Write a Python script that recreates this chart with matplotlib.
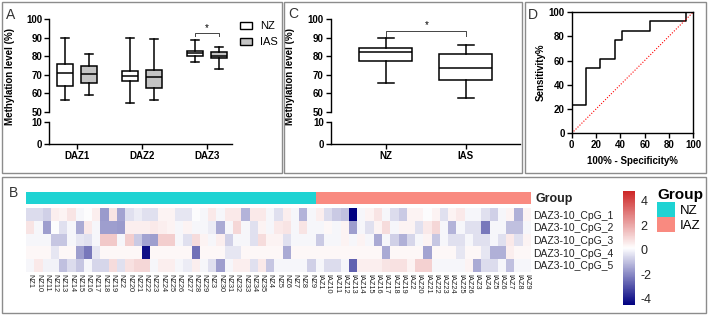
import numpy as np
import matplotlib
matplotlib.use("Agg")
import matplotlib.pyplot as plt
from matplotlib.patches import Rectangle, Patch
from matplotlib.colors import LinearSegmentedColormap, ListedColormap, Normalize

plt.rcParams['font.family'] = ['Liberation Sans', 'DejaVu Sans']
plt.rcParams['axes.unicode_minus'] = False

# ---- data ----
regions = ['DAZ1', 'DAZ2', 'DAZ3']
nz_whislo = [56.3, 54.7, 76.7]
nz_q1 = [64.1, 66.4, 80.1]
nz_med = [71.1, 69.3, 81.6]
nz_q3 = [75.8, 72.0, 83.0]
nz_whishi = [90.1, 90.0, 89.0]
ias_whislo = [59.2, 56.1, 73.1]
ias_q1 = [65.7, 63.0, 79.0]
ias_med = [70.6, 68.6, 80.1]
ias_q3 = [74.5, 72.4, 82.1]
ias_whishi = [81.4, 89.5, 85.0]

groups_c = ['NZ', 'IAS']
c_whislo = [65.5, 57.5]
c_q1 = [77.5, 67.1]
c_med = [82.2, 73.9]
c_q3 = [84.2, 81.1]
c_whishi = [90.1, 86.3]

roc_fpr = [0, 0, 11.8, 11.8, 23.5, 23.5, 35.3, 35.3, 41.2, 41.2, 64.7, 64.7, 94.1, 94.1, 100]
roc_tpr = [0, 23.1, 23.1, 53.8, 53.8, 61.5, 61.5, 76.9, 76.9, 84.6, 84.6, 92.3, 92.3, 100, 100]

samples_nz = ['NZ1'] + ['NZ1%d' % i for i in range(10)] + ['NZ2'] + ['NZ2%d' % i for i in range(10)] \
    + ['NZ3'] + ['NZ3%d' % i for i in range(6)] + ['NZ%d' % i for i in range(4, 10)]
samples_iaz = ['IAZ1'] + ['IAZ1%d' % i for i in range(10)] + ['IAZ2'] + ['IAZ2%d' % i for i in range(7)] \
    + ['IAZ%d' % i for i in range(3, 10)]
samples = samples_nz + samples_iaz
cpg_sites = ['DAZ3-10_CpG_%d' % i for i in range(1, 6)]

cpg1 = [-0.5, -0.5, -0.7, 0.5, 0.4, 0.7, 0.0, 0.1, 0.5, -1.7, 0.7, -1.5, -0.4, -0.2, -0.4, -0.4,
        0.4, 0.4, -0.3, -0.3, 0.1, 0.0, 0.6, 0.0, 0.6, 0.6, -1.2, 0.6, 0.6, 0.0, -0.4, 0.5, 0.0,
        -1.2, 0.0, 0.5, -0.5, -0.8, -1.0, -4.5, 0.0, 0.4, 0.7, 0.0, -0.5, -0.8, 0.4, 0.4, 0.1,
        0.4, -0.4, 0.4, 0.6, 0.0, 0.0, -0.4, -0.7, 0.0, 0.4, -1.3, 0.4]
cpg2 = [0.7, 0.0, -1.6, 0.1, -0.4, 0.0, -1.4, 0.6, 0.0, -1.6, -1.6, -1.7, 0.5, 0.5, 0.5, 0.6,
        0.5, 0.4, 0.0, 0.4, 0.0, 0.0, -0.2, -1.4, 0.0, 1.0, 0.0, -0.4, 0.4, 0.0, 0.6, 0.7, 0.0,
        0.7, 0.0, 0.0, 0.3, 0.0, 0.4, -1.6, 0.0, -0.4, 0.4, 0.9, 0.0, 0.4, 0.4, -0.4, 0.6,
        1.0, 0.0, -1.2, 0.0, -0.4, -0.4, -2.3, 0.0, 0.0, -1.0, -1.0, 0.0]
cpg3 = [0.0, 0.0, 0.0, -0.9, -0.9, 0.0, -0.3, -0.4, 0.0, 1.3, 1.3, 0.0, 1.2, -0.8, -1.5, -1.6,
        1.2, 1.2, 0.0, -0.4, 0.9, 0.4, 0.0, 0.5, -0.7, 0.0, 0.0, -0.4, 0.9, 0.4, 0.4, -0.4, 0.0,
        0.0, 0.0, -0.8, 0.0, 0.0, 0.4, 0.0, 0.4, 0.0, -1.4, 0.0, -0.7, -1.3, -0.6, 0.0, 0.4,
        -0.9, 0.0, -0.4, -0.4, 0.0, -0.4, -0.4, 0.0, -0.4, 0.6, -0.4, 0.4]
cpg4 = [0.3, 0.3, 0.3, -0.3, 0.3, 0.3, -1.6, -2.3, -0.3, 0.3, 0.3, 0.3, 0.3, 0.3, -4.2, 0.3,
        0.3, 0.3, 0.3, 0.3, -2.4, 0.3, 0.3, 0.3, -0.3, -0.3, 0.3, 0.3, 0.3, 0.3, 0.3, -1.4, 0.3,
        0.3, 0.3, 0.3, 0.3, 0.3, 0.3, 0.3, 0.3, 0.3, 0.3, -1.4, 0.3, 0.3, 0.3, 0.3, -1.5,
        0.3, 0.3, 0.3, -0.3, 0.3, 0.3, -0.3, -1.3, -1.3, 0.5, 0.3, 0.3]
cpg5 = [0.0, 0.6, -0.1, -0.1, -1.0, -0.5, -0.9, 0.0, -0.6, -0.6, 0.9, -0.4, 0.8, 1.0, 1.0, 0.0,
        0.5, 0.5, 0.0, -0.2, 0.5, 0.0, -0.4, -1.6, 0.0, 0.5, 0.5, -0.4, 0.6, -0.9, 0.0, 0.0, 0.0,
        0.0, -0.7, 0.0, -0.5, -0.5, 0.0, -2.7, 0.5, 0.5, 0.5, 0.7, 0.8, 0.8, 0.4, 1.1, 1.1,
        0.0, 0.0, 0.0, 0.0, 0.4, -1.4, -0.5, -0.5, 0.0, -1.0, 0.0, 0.0]

W, H = 708, 315
fig = plt.figure(figsize=(W / 100, H / 100), dpi=100)


def px_axes(x0, y0, x1, y1):
    return fig.add_axes([x0 / W, 1 - y1 / H, (x1 - x0) / W, (y1 - y0) / H])


def stats(lo, q1, med, q3, hi):
    return [dict(whislo=a, q1=b, med=c, q3=d, whishi=e, fliers=[])
            for a, b, c, d, e in zip(lo, q1, med, q3, hi)]


def broken_axes(x0, x1, xlim):
    top = px_axes(x0, 19.3, x1, 111.7)
    bot = px_axes(x0, 121.7, x1, 144.3)
    top.set_ylim(50, 100)
    top.set_yticks(range(50, 101, 10))
    bot.set_ylim(0, 10)
    bot.set_yticks([0, 10])
    for s in ['top', 'right', 'bottom']:
        top.spines[s].set_visible(False)
    for s in ['top', 'right']:
        bot.spines[s].set_visible(False)
    top.tick_params(axis='x', bottom=False, labelbottom=False)
    for a in (top, bot):
        a.set_xlim(*xlim)
        a.patch.set_alpha(0)
        a.tick_params(length=3.5, width=1, labelsize=7, pad=1.5)
        for lab in a.get_yticklabels():
            lab.set_fontweight('bold')
        for sp in a.spines.values():
            sp.set_linewidth(1)
    return top, bot


line_kw = dict(color='black', linewidth=1.1)
box_kw = dict(showfliers=False, patch_artist=True, manage_ticks=False,
              whiskerprops=line_kw, capprops=line_kw, medianprops=line_kw)

# ---- panel A ----
topA, botA = broken_axes(49.3, 232, (-0.43, 2.385))
pos = np.arange(len(regions))
off, bw = 0.185, 0.24
topA.bxp(stats(nz_whislo, nz_q1, nz_med, nz_q3, nz_whishi), positions=pos - off, widths=bw,
         capwidths=bw * 0.55, boxprops=dict(facecolor='white', edgecolor='black', linewidth=1.1), **box_kw)
topA.bxp(stats(ias_whislo, ias_q1, ias_med, ias_q3, ias_whishi), positions=pos + off, widths=bw,
         capwidths=bw * 0.55, boxprops=dict(facecolor='#c4c4c4', edgecolor='black', linewidth=1.1), **box_kw)
botA.set_xticks(pos)
botA.set_xticklabels(regions, fontweight='bold')
topA.set_ylabel('Methylation level (%)', fontsize=7, fontweight='bold')
topA.yaxis.set_label_coords(-0.19, 0.38)
topA.plot([2 - off, 2 - off, 2 + off, 2 + off], [90.8, 92.4, 92.4, 90.8], color='#444444', lw=0.7, clip_on=False)
topA.text(2, 92.6, '*', ha='center', va='bottom', fontsize=7)
fig.legend(handles=[Patch(facecolor='white', edgecolor='black', lw=1),
                    Patch(facecolor='#c4c4c4', edgecolor='black', lw=1)],
           labels=['NZ', 'IAS'], loc='upper left', bbox_to_anchor=(239.5 / W, 1 - 21 / H),
           frameon=False, fontsize=8, handlelength=1.13, handleheight=0.6, labelspacing=0.55,
           handletextpad=0.7, borderpad=0, borderaxespad=0)

# ---- panel C ----
topC, botC = broken_axes(330.7, 520, (-0.685, 1.68))
posc = np.arange(len(groups_c))
topC.bxp(stats(c_whislo, c_q1, c_med, c_q3, c_whishi), positions=posc, widths=0.66,
         capwidths=0.2, boxprops=dict(facecolor='white', edgecolor='black', linewidth=1.1), **box_kw)
botC.set_xticks(posc)
botC.set_xticklabels(groups_c, fontweight='bold')
topC.set_ylabel('Methylation level (%)', fontsize=7, fontweight='bold')
topC.yaxis.set_label_coords(-0.19, 0.38)
topC.plot([0, 0, 1, 1], [91.0, 93.8, 93.8, 91.2], color='#444444', lw=0.7, clip_on=False)
topC.text(0.515, 94.2, '*', ha='center', va='bottom', fontsize=7)

# ---- panel D ----
axD = px_axes(571.7, 12, 693.3, 133.3)
axD.plot(roc_fpr, roc_tpr, color='black', lw=1.1)
axD.plot([0, 100], [0, 100], color='red', ls=(0, (1, 1.5)), lw=0.8)
axD.set_xlim(0, 100)
axD.set_ylim(0, 100)
axD.set_xticks(range(0, 101, 20))
axD.set_yticks(range(0, 101, 20))
axD.tick_params(length=3.5, width=1, labelsize=7, pad=1.5)
for lab in axD.get_xticklabels() + axD.get_yticklabels():
    lab.set_fontweight('bold')
for sp in axD.spines.values():
    sp.set_linewidth(1)
axD.set_xlabel('100% - Specificity%', fontsize=7, fontweight='bold', labelpad=4)
axD.set_ylabel('Sensitivity%', fontsize=7, fontweight='bold', labelpad=2)

# ---- panel B heatmap ----
mat = np.array([cpg1, cpg2, cpg3, cpg4, cpg5])
cmap = LinearSegmentedColormap.from_list('nwf', ['#000080', 'white', '#CD2626'])
norm = Normalize(vmin=-4.5, vmax=4.8)
axB = px_axes(26, 208.3, 531, 271.7)
im = axB.imshow(mat, cmap=cmap, norm=norm, aspect='auto', interpolation='nearest')
axB.set_xticks(np.arange(len(samples)))
axB.set_xticklabels(samples, rotation=-90, fontsize=5.3, color='#222222')
axB.set_yticks(np.arange(len(cpg_sites)))
axB.set_yticklabels(cpg_sites, fontsize=7.5, color='#222222')
axB.yaxis.tick_right()
axB.tick_params(length=0, pad=1.5)
for sp in axB.spines.values():
    sp.set_visible(False)

group_codes = [0] * len(samples_nz) + [1] * len(samples_iaz)
group_cols = ['#1ED3D3', '#F98A80']
axG = px_axes(26, 192.3, 531, 204.3)
axG.imshow([group_codes], cmap=ListedColormap(group_cols), aspect='auto', interpolation='nearest')
axG.axis('off')
fig.text(535 / W, 1 - 199 / H, 'Group', fontsize=9, fontweight='bold', ha='left', va='center', color='#222222')

cax = px_axes(622.7, 191, 635, 305)
cb = fig.colorbar(im, cax=cax, ticks=[-4, -2, 0, 2, 4])
cb.outline.set_visible(False)
cax.tick_params(length=0, labelsize=9, pad=4, colors='#222222')

fig.legend(handles=[Patch(facecolor=c, edgecolor='none') for c in group_cols], labels=['NZ', 'IAZ'],
           loc='upper left', bbox_to_anchor=(657 / W, 1 - 188 / H), frameon=False, title='Group',
           title_fontproperties={'weight': 'bold', 'size': 11}, alignment='left', fontsize=9.5,
           handlelength=1.36, handleheight=1.4, labelspacing=0, handletextpad=0.35,
           borderpad=0, borderaxespad=0)

# ---- panel frames and letters ----
for x0, y0, x1, y1 in [(2, 2, 282, 173), (284, 2, 521.7, 173), (525, 2, 706, 173), (2, 177, 706, 313)]:
    fig.add_artist(Rectangle((x0 / W, 1 - y1 / H), (x1 - x0) / W, (y1 - y0) / H,
                             transform=fig.transFigure, fill=False, edgecolor='#8c8c8c', lw=1))
for letter, x, y in [('A', 6, 15), ('C', 288, 14), ('D', 528, 15), ('B', 9, 193)]:
    fig.text(x / W, 1 - y / H, letter, fontsize=10, ha='left', va='center', color='#333333')

fig.savefig('out.png', dpi=100)
